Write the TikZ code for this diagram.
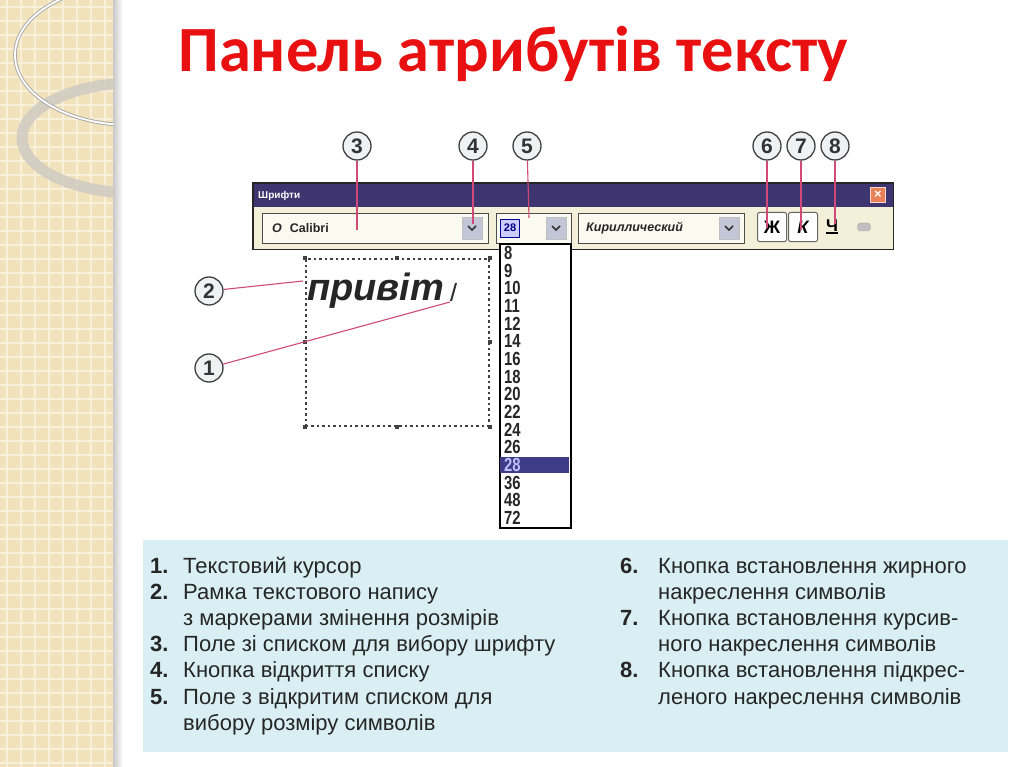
\documentclass[tikz,border=0pt]{standalone}
\usepackage{fontspec}
\setmainfont{Liberation Sans}
\newfontfamily\titlefont{Carlito}
\newfontfamily\narrowfont[FakeStretch=0.78]{Liberation Sans}
\usetikzlibrary{calc}
\definecolor{strip}{HTML}{F2E2BC}
\definecolor{stripline}{HTML}{F9F0DA}
\definecolor{titlered}{HTML}{E81010}
\definecolor{navy}{HTML}{3D3470}
\definecolor{cream}{HTML}{F3EFD9}
\definecolor{combofill}{HTML}{FBFAF0}
\definecolor{btnfill}{HTML}{C3C6D6}
\definecolor{leadc}{HTML}{D04A78}
\definecolor{callfill}{HTML}{EEF2F2}
\definecolor{infofill}{HTML}{D9EFF3}
\definecolor{infotext}{HTML}{262626}
\definecolor{hl}{HTML}{3E3C86}
\definecolor{closebg}{HTML}{E8805A}
\definecolor{ringgrey}{HTML}{CFCBC2}
\begin{document}
\begin{tikzpicture}[x=1pt,y=-1pt,
  callout/.style={circle, draw=black!75, line width=1.3pt, fill=callfill, minimum size=28pt, inner sep=0pt,
    font=\bfseries\fontsize{21}{21}\selectfont, text=black!80},
  leader/.style={draw=leadc, line width=1.1pt},
  combo/.style={draw=black!70, line width=1.2pt, fill=combofill, anchor=north west, inner sep=0pt, minimum height=30pt},
  ddbtn/.style={fill=btnfill, draw=black!25, minimum width=20pt, minimum height=22pt, inner sep=0pt},
  chev/.style={line width=1.6pt, black!80},
  combotext/.style={anchor=west, inner sep=0pt, font=\bfseries\fontsize{12.5}{12.5}\selectfont, text=black!85},
  fmtbtn/.style={draw=black!60, line width=1pt, rounded corners=2pt, fill=white, minimum width=29pt, minimum height=29pt, inner sep=0pt,
    font=\bfseries\fontsize{18}{18}\selectfont},
  listnum/.style={anchor=west, inner sep=0pt, font=\narrowfont\bfseries\fontsize{19}{19}\selectfont, text=black!85},
  infotxt/.style={anchor=base west, inner sep=0pt, font=\fontsize{22}{26}\selectfont, text=infotext},
  infonum/.style={anchor=base west, inner sep=0pt, font=\bfseries\fontsize{22}{26}\selectfont, text=infotext},
  handle/.style={fill=black!75, minimum size=4pt, inner sep=0pt}
]
\useasboundingbox (0,0) rectangle (1024,767);
\fill[white] (0,0) rectangle (1024,767);
% left decorative strip
\fill[strip] (0,0) rectangle (113,767);
\foreach \g in {7,21,...,113} \draw[stripline, line width=1.6pt] (\g,0) -- (\g,767);
\foreach \g in {7,21,...,767} \draw[stripline, line width=1.6pt] (0,\g) -- (113,\g);
\shade[left color=black!22, right color=white] (113,0) rectangle (123,767);
\begin{scope}
  \clip (0,0) rectangle (114,767);
  \draw[ringgrey, line width=11pt, opacity=0.85] (135,138) ellipse (113pt and 55pt);
  \draw[black!35, line width=3.6pt] (130,55) ellipse (115pt and 70pt);
  \draw[white, line width=1.8pt] (130,55) ellipse (115pt and 70pt);
\end{scope}
% title
\node[anchor=base, inner sep=0pt, font=\titlefont\bfseries\fontsize{64.5}{64.5}\selectfont, text=titlered] (title) at (513,72) {Панель атрибутів тексту};
% toolbar window
\node[fill=navy, anchor=north west, minimum width=640pt, minimum height=24pt, inner sep=0pt] (tbar) at (253,183) {};
\node[anchor=west, inner sep=0pt, text=white, font=\bfseries\fontsize{10}{10}\selectfont] (tbtitle) at (258,196) {Шрифти};
\node[fill=closebg, draw=white!70!closebg, minimum size=15pt, inner sep=0pt, text=white, font=\bfseries\fontsize{13}{13}\selectfont] (close) at (878,195) {×};
\node[fill=cream, anchor=north west, minimum width=640pt, minimum height=42pt, inner sep=0pt] (tbody) at (253,207) {};
\draw[black!85, line width=1.6pt] (tbar.north west) rectangle (tbody.south east);
% font combo
\node[combo, minimum width=226pt] (fcombo) at (262,213) {};
\node[combotext] (fname) at (272,228) {\textit{O}\hspace{8pt}Calibri};
\node[ddbtn] (fbtn) at (472,228) {};
\draw[chev] ($(fbtn.center)+(-4,-2)$) -- ($(fbtn.center)+(0,2)$) -- ($(fbtn.center)+(4,-2)$);
% size combo
\node[combo, minimum width=75pt] (scombo) at (496,213) {};
\node[fill=blue!20, draw=blue!60!black, minimum width=19pt, minimum height=18pt, inner sep=0pt, text=blue!50!black,
  font=\bfseries\fontsize{11}{11}\selectfont] (sicon) at (510,228) {28};
\node[ddbtn] (sbtn) at (556,228) {};
\draw[chev] ($(sbtn.center)+(-4,-2)$) -- ($(sbtn.center)+(0,2)$) -- ($(sbtn.center)+(4,-2)$);
% script combo
\node[combo, minimum width=166pt] (kcombo) at (578,213) {};
\node[combotext, font=\bfseries\itshape\fontsize{12.5}{12.5}\selectfont] (kname) at (586,228) {Кириллический};
\node[ddbtn] (kbtn) at (729,228) {};
\draw[chev] ($(kbtn.center)+(-4,-2)$) -- ($(kbtn.center)+(0,2)$) -- ($(kbtn.center)+(4,-2)$);
% format buttons
\node[fmtbtn] (bold) at (772,227) {Ж};
\node[fmtbtn, font=\bfseries\itshape\fontsize{18}{18}\selectfont] (ital) at (803,227) {К};
\node[inner sep=0pt, font=\bfseries\fontsize{17}{17}\selectfont] (under) at (832,226) {Ч};
\draw[line width=1.5pt] ($(under.south west)+(0,1)$) -- ($(under.south east)+(0,1)$);
\node[fill=black!25, draw=black!35, rounded corners=3pt, minimum width=13pt, minimum height=8pt, inner sep=0pt] (icon) at (864,227) {};
% dropdown list
\node[draw=black, line width=1.5pt, fill=white, anchor=north west, minimum width=71pt, minimum height=284pt, inner sep=0pt] (list) at (499,243) {};
\node[fill=hl, anchor=north west, minimum width=69pt, minimum height=16pt, inner sep=0pt] (hlbar) at (500,457) {};
\foreach \v [count=\i from 0] in {8,9,10,11,12,14,16,18,20,22,24,26} \node[listnum] (n\v) at (504,{253+17.67*\i}) {\v};
\node[listnum, text=blue!25] (n28) at (504,{253+17.67*12}) {28};
\foreach \v [count=\i from 13] in {36,48,72} \node[listnum] (n\v) at (504,{253+17.67*\i}) {\v};
% text frame
\node[draw=black!75, dash pattern=on 2.5pt off 3pt, line width=1.6pt, anchor=north west, minimum width=183pt, minimum height=167pt, inner sep=0pt] (frame) at (305,258) {};
\foreach \a in {north west,north,north east,west,east,south west,south,south east} \node[handle] at (frame.\a) {};
\node[anchor=base west, inner sep=0pt, font=\bfseries\itshape\fontsize{38}{38}\selectfont, text=black!85] (word) at (307,300) {привіт};
\coordinate (curtop) at (456,283);
\coordinate (curbot) at (451,301);
\draw[line width=2pt, black!80] (curtop) -- (curbot);
% callouts
\node[callout] (c3) at (357,146) {3};
\node[callout] (c4) at (473,146) {4};
\node[callout] (c5) at (527,146) {5};
\node[callout] (c6) at (767,146) {6};
\node[callout] (c7) at (801,146) {7};
\node[callout] (c8) at (835,146) {8};
\node[callout] (c2) at (209,291) {2};
\node[callout] (c1) at (209,368) {1};
\coordinate (e3) at (357,230);
\coordinate (e4) at (473,224);
\coordinate (e5) at (529,218);
\coordinate (e6) at (767,228);
\coordinate (e7) at (801,230);
\coordinate (e8) at (835,224);
\coordinate (e2) at (303,281);
\coordinate (e1) at (450,302);
\foreach \k in {3,4,5,6,7,8,2,1} \draw[leader] (c\k) -- (e\k);
% info box
\node[fill=infofill, anchor=north west, minimum width=865pt, minimum height=212pt, inner sep=0pt] (info) at (143,540) {};
\foreach \t [count=\i from 0] in {Текстовий курсор, Рамка текстового напису, з маркерами змінення розмірів,
  Поле зі списком для вибору шрифту, Кнопка відкриття списку, Поле з відкритим списком для, вибору розміру символів}
  \node[infotxt] (lt\i) at (183,{573+26.2*\i}) {\t};
\foreach \n/\r in {1/0,2/1,3/3,4/4,5/5} \node[infonum] (ln\n) at (150,{573+26.2*\r}) {\n.};
\foreach \t [count=\i from 0] in {Кнопка встановлення жирного, накреслення символів, Кнопка встановлення курсив-,
  ного накреслення символів, Кнопка встановлення підкрес-, леного накреслення символів}
  \node[infotxt] (rt\i) at (658,{573+26.2*\i}) {\t};
\foreach \n/\r in {6/0,7/2,8/4} \node[infonum] (rn\n) at (620,{573+26.2*\r}) {\n.};
\end{tikzpicture}
\end{document}
